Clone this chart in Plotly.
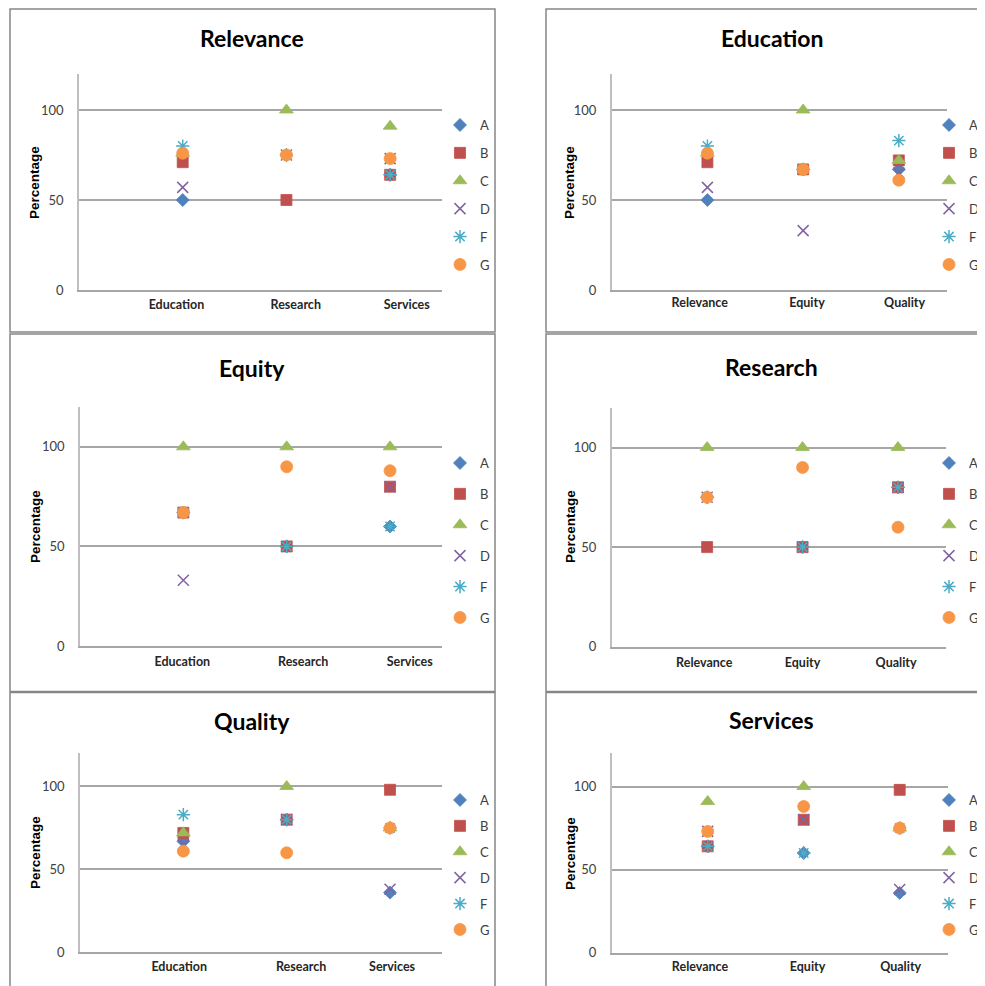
import plotly.graph_objects as go

# ---------------- data ----------------
series_names = ["A", "B", "C", "D", "F", "G"]
cats_ers = ["Education", "Research", "Services"]
cats_req = ["Relevance", "Equity", "Quality"]

relevance = {"A": [50, 75, 64], "B": [71, 50, 64], "C": [76, 100, 91],
             "D": [57, 75, 73], "F": [80, 75, 64], "G": [76, 75, 73]}
education = {"A": [50, 67, 67], "B": [71, 67, 72], "C": [76, 100, 72],
             "D": [57, 33, 65], "F": [80, 67, 83], "G": [76, 67, 61]}
equity = {"A": [67, 50, 60], "B": [67, 50, 80], "C": [100, 100, 100],
          "D": [33, 50, 80], "F": [67, 50, 60], "G": [67, 90, 88]}
research = {"A": [75, 50, 80], "B": [50, 50, 80], "C": [100, 100, 100],
            "D": [75, 50, 80], "F": [75, 50, 80], "G": [75, 90, 60]}
quality = {"A": [67, 80, 36], "B": [72, 80, 98], "C": [72, 100, 75],
           "D": [65, 80, 38], "F": [83, 80, 75], "G": [61, 60, 75]}
services = {"A": [64, 60, 36], "B": [64, 80, 98], "C": [91, 100, 75],
            "D": [73, 80, 38], "F": [64, 60, 75], "G": [73, 88, 75]}

panel_titles = ["Relevance", "Education", "Equity", "Research", "Quality", "Services"]
panel_cats = [cats_ers, cats_req, cats_ers, cats_req, cats_ers, cats_req]
panel_data = [relevance, education, equity, research, quality, services]

# ---------------- styles ----------------
OFF = 8                      # page body margin
WF, HF = 985, 986
FONT = "Lato, Liberation Sans, Arial, sans-serif"
styles = {
    "A": dict(symbol="diamond", color="#4F81BD", size=10),
    "B": dict(symbol="square", color="#C0504D", size=11),
    "C": dict(symbol="triangle-up", color="#9BBB59", size=12),
    "D": dict(symbol="x-thin-open", color="#8064A2", size=11),
    "F": dict(symbol="asterisk-open", color="#4BACC6", size=11),
    "G": dict(symbol="circle", color="#F79646", size=12),
}

# panel geometry in window pixels
geo = [
    dict(plot=(79, 74, 442, 290), border=(10, 9, 495, 332), title=(252, 38), ytitle=(35, 183),
         leg=(466, 124, 28), loff=[-0.06, 0.09, 0.16], lstand=2),
    dict(plot=(611.7, 74, 946.7, 290), border=(546, 9, 1000, 332), title=(771.7, 38), ytitle=(570, 183),
         leg=(955, 124, 28), loff=[-0.08, 0.04, 0.06], lstand=0),
    dict(plot=(80, 407, 441.7, 646), border=(10, 334, 495, 691.5), title=(252, 368), ytitle=(35, 527),
         leg=(466, 462, 31), loff=[-0.01, 0.16, 0.19], lstand=3),
    dict(plot=(611.7, 407.7, 945.7, 646.7), border=(546, 334, 1000, 691.5), title=(771, 367), ytitle=(570, 527),
         leg=(955, 462, 31), loff=[-0.03, 0.0, -0.02], lstand=4),
    dict(plot=(80, 753.3, 441.7, 952.3), border=(10, 692.5, 495, 1000), title=(251.7, 721), ytitle=(35, 853),
         leg=(466, 799, 26), loff=[-0.04, 0.14, 0.02], lstand=2),
    dict(plot=(611.7, 753.3, 947.7, 952.7), border=(546, 692.5, 1000, 1000), title=(771.7, 720), ytitle=(570, 854),
         leg=(955, 799, 26), loff=[-0.08, 0.04, 0.01], lstand=2),
]

def px(x):
    return (x - OFF) / WF

def py(y):
    return 1 - (y - OFF) / HF

fig = go.Figure()
layout = dict(width=WF, height=HF, margin=dict(l=0, r=0, t=0, b=0, autoexpand=False),
              paper_bgcolor="white", plot_bgcolor="white",
              font=dict(family=FONT, color="#404040"))
shapes, annotations = [], []

for i in range(6):
    g = geo[i]
    n = i + 1
    xa = "x" if n == 1 else f"x{n}"
    ya = "y" if n == 1 else f"y{n}"
    legname = "legend" if n == 1 else f"legend{n}"
    cats = panel_cats[i]
    data = panel_data[i]
    for s in series_names:
        st = styles[s]
        is_line = st["symbol"] in ("x-thin-open", "asterisk-open")
        marker = dict(symbol=st["symbol"], size=st["size"], color=st["color"],
                      line=dict(color=st["color"], width=1.5 if is_line else 0.8))
        fig.add_trace(go.Scatter(
            x=[1, 2, 3], y=data[s], mode="markers", name=s, marker=marker,
            xaxis=xa, yaxis=ya, legend=legname, legendgroup=f"{n}{s}", showlegend=True,
            hovertemplate="%{text}: %{y}<extra>" + s + "</extra>", text=cats))

    x0, y0, x1, y1 = g["plot"]
    axis_x_key = "xaxis" if n == 1 else f"xaxis{n}"
    axis_y_key = "yaxis" if n == 1 else f"yaxis{n}"
    layout[axis_x_key] = dict(
        domain=[px(x0), px(x1)], anchor=ya, range=[0, 3.5], showgrid=False, zeroline=False,
        showline=True, linecolor="#A6A6A6", linewidth=1.5,
        tickmode="array", tickvals=[k + 1 + g["loff"][k] for k in range(3)], ticktext=cats,
        ticks="", ticklabelstandoff=int(g["lstand"]),
        tickfont=dict(family=FONT, size=12.5, color="#262626", weight="bold"), fixedrange=True)
    layout[axis_y_key] = dict(
        domain=[py(y1), py(y0)], anchor=xa, range=[0, 120], showgrid=True, gridcolor="#A6A6A6",
        gridwidth=1.5, zeroline=False, showline=True, linecolor="#BFBFBF", linewidth=1.5,
        tickmode="array", tickvals=[0, 50, 100], ticks="", ticklabelstandoff=11,
        tickfont=dict(family=FONT, size=13, color="#404040"), fixedrange=True)

    lx, ly, lsp = g["leg"]
    layout[legname] = dict(
        x=px(lx - 26), y=py(ly - 14), xanchor="left", yanchor="top", bgcolor="rgba(0,0,0,0)",
        borderwidth=0, traceorder="grouped", tracegroupgap=max(lsp - 20, 0),
        font=dict(family=FONT, size=13, color="#404040"), itemclick=False, itemdoubleclick=False)

    bx0, by0, bx1, by1 = g["border"]
    shapes.append(dict(type="rect", xref="paper", yref="paper", x0=px(bx0), x1=px(bx1),
                       y0=py(by1), y1=py(by0), line=dict(color="#868686", width=1.5),
                       fillcolor="rgba(0,0,0,0)", layer="below"))
    tx, ty = g["title"]
    annotations.append(dict(text=f"<b>{panel_titles[i]}</b>", x=px(tx), y=py(ty), xref="paper",
                            yref="paper", xanchor="center", yanchor="middle", showarrow=False,
                            font=dict(family=FONT, size=23, color="#000000")))
    yx, yy = g["ytitle"]
    annotations.append(dict(text="<b>Percentage</b>", x=px(yx), y=py(yy), xref="paper",
                            yref="paper", xanchor="center", yanchor="middle", showarrow=False,
                            textangle=-90,
                            font=dict(family="Liberation Sans, Arial, sans-serif", size=13.5,
                                      color="#000000")))

layout["shapes"] = shapes
layout["annotations"] = annotations
fig.update_layout(**layout)
fig.write_html("out.html")
